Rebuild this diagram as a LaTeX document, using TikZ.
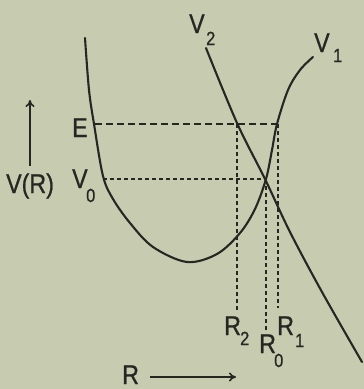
\documentclass[tikz,border=0pt]{standalone}
\usepackage{fontspec}
\newfontfamily\labfont{Liberation Sans}[FakeStretch=0.86, FakeBold=0.8]
\usetikzlibrary{arrows.meta}
\definecolor{paper}{RGB}{199,203,176}
\definecolor{ink}{RGB}{38,38,34}
\tikzset{
  curve/.style={draw=ink, line width=2.1pt, line cap=round},
  guide/.style={draw=ink, line width=1.3pt, dash pattern=on 7pt off 4pt},
  fineguide/.style={draw=ink, line width=1.1pt, dash pattern=on 4pt off 3pt},
  lab/.style={inner sep=0pt, anchor=base west, text=ink, font=\labfont\fontsize{27}{27}\selectfont},
  sublab/.style={inner sep=0pt, anchor=base west, text=ink, font=\labfont\fontsize{19}{19}\selectfont},
  axisarrow/.style={draw=ink, line width=1.6pt, -{To[length=7pt,width=9pt]}}
}
\begin{document}
\begin{tikzpicture}[x=1pt, y=-1pt]
\fill[paper] (0,0) rectangle (364,389);
\useasboundingbox (0,0) rectangle (364,389);
% curves
\draw[curve] plot[smooth, tension=0.55] coordinates {(85,38) (89,90) (94,124) (103,176) (113,199) (130,223) (153,247) (187,262) (217,254) (240,233) (255,209) (266,179) (272,150) (277,124) (288,90) (300,70) (313,57)};
\draw[curve] plot[smooth, tension=0.55] coordinates {(206,48) (237,123) (265,179) (290,232) (322,292) (362,362)};
% named points
\coordinate (eL) at (95,124);
\coordinate (eR) at (277,124);
\coordinate (vL) at (103,179);
\coordinate (cross) at (266,179);
\coordinate (r2top) at (237,124);
\coordinate (r2bot) at (237,311);
\coordinate (r1top) at (278,124);
\coordinate (r1bot) at (278,308);
\coordinate (r0bot) at (266,331);
% guides
\draw[guide] (eL) -- (eR);
\draw[fineguide] (vL) -- (cross);
\draw[fineguide] (r2top) -- (r2bot);
\draw[fineguide] (r1top) -- (r1bot);
\draw[fineguide] (cross) -- (r0bot);
% labels
\node[lab] (vr) at (6,193) {V(R)};
\coordinate (vaxb) at (30,166);
\coordinate (vaxt) at (30,100);
\draw[axisarrow] (vaxb) -- (vaxt);
\node[lab] (elab) at (72,137) {E};
\node[lab] (v0) at (72,188) {V};
\node[sublab] (v0s) at (86,202) {0};
\node[lab] (v2) at (189,33) {V};
\node[sublab] (v2s) at (206,45) {2};
\node[lab] (v1) at (314,52) {V};
\node[sublab] (v1s) at (333,62) {1};
\node[lab] (r2) at (224,335) {R};
\node[sublab] (r2s) at (240,345) {2};
\node[lab] (r0) at (259,353) {R};
\node[sublab] (r0s) at (274,367) {0};
\node[lab] (r1) at (277,335) {R};
\node[sublab] (r1s) at (295,347) {1};
\node[lab] (rl) at (122,384) {R};
\coordinate (rax1) at (150,377);
\coordinate (rax2) at (236,377);
\draw[axisarrow] (rax1) -- (rax2);
\end{tikzpicture}
\end{document}
